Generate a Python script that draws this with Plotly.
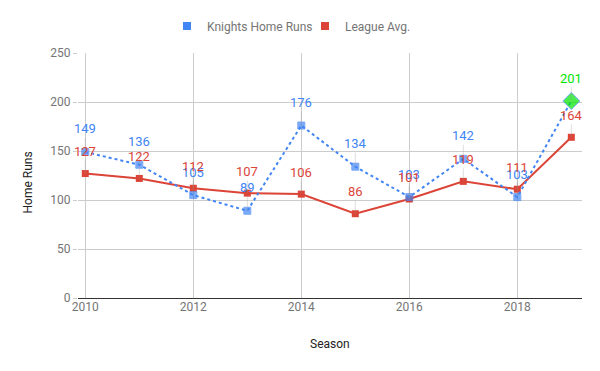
import plotly.graph_objects as go

seasons = [2010, 2011, 2012, 2013, 2014, 2015, 2016, 2017, 2018, 2019]
knights_hr = [149, 136, 105, 89, 176, 134, 103, 142, 103, 201]
league_avg = [127, 122, 112, 107, 106, 86, 101, 119, 111, 164]
highlight_index = 9  # the last Knights season is highlighted

BLUE = "#4285F4"
RED = "#DB4437"
GREEN = "#00E600"
FONT = "Roboto"

fig = go.Figure()

knights_colors = [GREEN if i == highlight_index else BLUE for i in range(len(seasons))]
knights_symbols = ["diamond" if i == highlight_index else "square" for i in range(len(seasons))]
knights_sizes = [13 if i == highlight_index else 7 for i in range(len(seasons))]

fig.add_trace(go.Scatter(
    x=seasons, y=league_avg, mode="lines+markers", name="League Avg.",
    line=dict(color=RED, width=2),
    marker=dict(color=RED, symbol="square", size=7),
    showlegend=False,
))
fig.add_trace(go.Scatter(
    x=seasons, y=knights_hr, mode="lines+markers", name="Knights Home Runs",
    line=dict(color=BLUE, width=2, dash="dot"),
    marker=dict(color=knights_colors, symbol=knights_symbols, size=knights_sizes),
    showlegend=False,
))
# legend-only entries (square swatches), each in its own legend box
fig.add_trace(go.Scatter(x=[None], y=[None], mode="markers", name="Knights Home Runs",
                         marker=dict(color=BLUE, symbol="square", size=8), legend="legend"))
fig.add_trace(go.Scatter(x=[None], y=[None], mode="markers", name="League Avg.",
                         marker=dict(color=RED, symbol="square", size=8), legend="legend2"))

annotations = []
for i, (x, y) in enumerate(zip(seasons, knights_hr)):
    annotations.append(dict(
        x=x, y=y, xref="x", yref="y", text=str(y), showarrow=True,
        arrowhead=0, arrowwidth=1, arrowcolor="rgba(150,150,150,0.3)",
        ax=0, ay=-23, font=dict(family=FONT, size=13, color=knights_colors[i]),
    ))
for x, y in zip(seasons, league_avg):
    annotations.append(dict(
        x=x, y=y, xref="x", yref="y", text=str(y), showarrow=True,
        arrowhead=0, arrowwidth=1, arrowcolor="rgba(150,150,150,0.3)",
        ax=0, ay=-22, font=dict(family=FONT, size=13, color=RED),
    ))
# axis titles
annotations.append(dict(text="Season", xref="paper", yref="paper", x=0.5, y=-0.188,
                        xanchor="center", yanchor="middle", showarrow=False,
                        font=dict(family=FONT, size=12, color="#222222")))
annotations.append(dict(text="Home Runs", xref="paper", yref="paper", x=-0.1,
                        y=0.47, xanchor="center", yanchor="middle", showarrow=False,
                        textangle=-90, font=dict(family=FONT, size=12, color="#222222")))

legend_style = dict(orientation="h", y=1.11, yanchor="middle", xanchor="left",
                    font=dict(family=FONT, size=12, color="#757575"),
                    itemwidth=30, borderwidth=0, bgcolor="rgba(0,0,0,0)")

fig.update_layout(
    width=600, height=371,
    margin=dict(l=78, r=18, t=53, b=73, autoexpand=False),
    paper_bgcolor="white", plot_bgcolor="white",
    font=dict(family=FONT, size=12, color="#757575"),
    legend=dict(x=(187 - 20 - 78) / 504, **legend_style),
    legend2=dict(x=(325 - 20 - 78) / 504, **legend_style),
    annotations=annotations,
    xaxis=dict(
        range=[2009.865, 2019.198], tickmode="array",
        tickvals=[2010, 2012, 2014, 2016, 2018],
        ticktext=["2010", "2012", "2014", "2016", "2018"],
        showgrid=True, gridcolor="#CCCCCC", gridwidth=1, zeroline=False,
        showline=False, ticks="", automargin=False,
    ),
    yaxis=dict(
        range=[0, 250], tickvals=[0, 50, 100, 150, 200, 250],
        showgrid=True, gridcolor="#CCCCCC", gridwidth=1,
        zeroline=True, zerolinecolor="#333333", zerolinewidth=1,
        ticks="outside", ticklen=4, tickcolor="#CCCCCC", automargin=False,
    ),
)

fig.write_html("out.html", config={"displayModeBar": False},
               post_script="document.body.style.margin='0';")
